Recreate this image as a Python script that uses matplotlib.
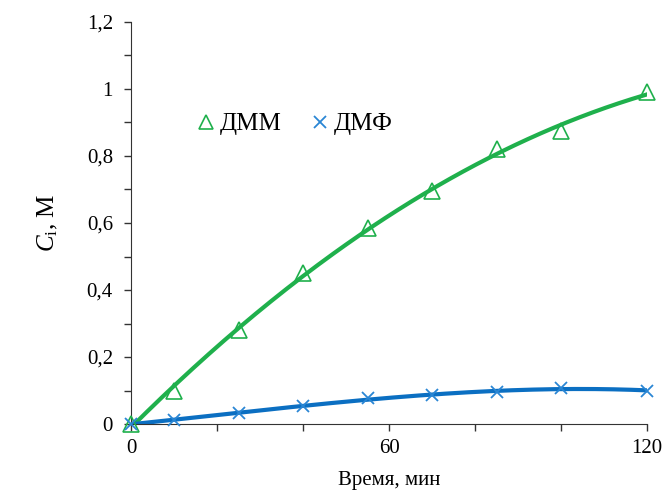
import numpy as np
import matplotlib.pyplot as plt
from matplotlib.ticker import MultipleLocator, FuncFormatter

# время отбора проб, мин
time_min = [0, 10, 25, 40, 55, 70, 85, 100, 120]
# концентрации, М
c_dmm = [0.0, 0.10, 0.28, 0.45, 0.585, 0.695, 0.82, 0.875, 0.99]
c_dmf = [0.0, 0.012, 0.033, 0.053, 0.077, 0.087, 0.095, 0.107, 0.10]

green = '#1fb04c'
blue = '#0b6fc2'

plt.rcParams['font.family'] = ['Liberation Serif', 'DejaVu Serif']
plt.rcParams['mathtext.fontset'] = 'custom'
plt.rcParams['mathtext.rm'] = 'Liberation Serif'
plt.rcParams['mathtext.it'] = 'Liberation Serif:italic'

fig = plt.figure(figsize=(6.63, 4.95), dpi=100)
ax = fig.add_axes([0.1976, 0.1434, 0.7784, 0.8122])

t = np.array(time_min, dtype=float)
tt = np.linspace(0, 120, 200)
fit_dmm = np.polyval(np.polyfit(t, c_dmm, 2), tt)
fit_dmf = np.polyval(np.polyfit(t, c_dmf, 3), tt)

ax.plot(tt, fit_dmm, color=green, lw=3, zorder=2)
ax.plot(tt, fit_dmf, color=blue, lw=3, zorder=2)
ax.plot(t, c_dmm, ls='none', marker='^', ms=11, mfc='none', mec=green, mew=1.2,
        label='ДММ', zorder=3, clip_on=False)
ax.plot(t, c_dmf, ls='none', marker='x', ms=9, mec='#2a86d4', mew=1.3,
        label='ДМФ', zorder=3, clip_on=False)

ax.set_xlim(0, 120)
ax.set_ylim(0, 1.2)
ax.xaxis.set_major_locator(MultipleLocator(60))
ax.xaxis.set_minor_locator(MultipleLocator(20))
ax.yaxis.set_major_locator(MultipleLocator(0.2))
ax.yaxis.set_minor_locator(MultipleLocator(0.1))
ax.yaxis.set_major_formatter(FuncFormatter(lambda v, p: ('%g' % round(v, 1)).replace('.', ',')))

for s in ['top', 'right']:
    ax.spines[s].set_visible(False)
for s in ['left', 'bottom']:
    ax.spines[s].set_color('#333333')
ax.tick_params(which='both', direction='out', color='#333333', labelsize=15, width=1)
ax.tick_params(which='major', length=5)
ax.tick_params(which='minor', length=5)
ax.tick_params(axis='x', pad=6)
ax.tick_params(axis='y', pad=8)

ax.set_xlabel('Время, мин', fontsize=15, labelpad=9)
ax.set_ylabel(r'$C_{\mathrm{i}}$, М', fontsize=18, labelpad=19)

leg = ax.legend(loc='upper left', bbox_to_anchor=(0.075, 0.83), ncol=2, frameon=False,
                fontsize=18, handletextpad=0.0, columnspacing=1.0, handlelength=1.1)
leg.legend_handles[0].set_markersize(10)

fig.savefig('out.png', dpi=100)
